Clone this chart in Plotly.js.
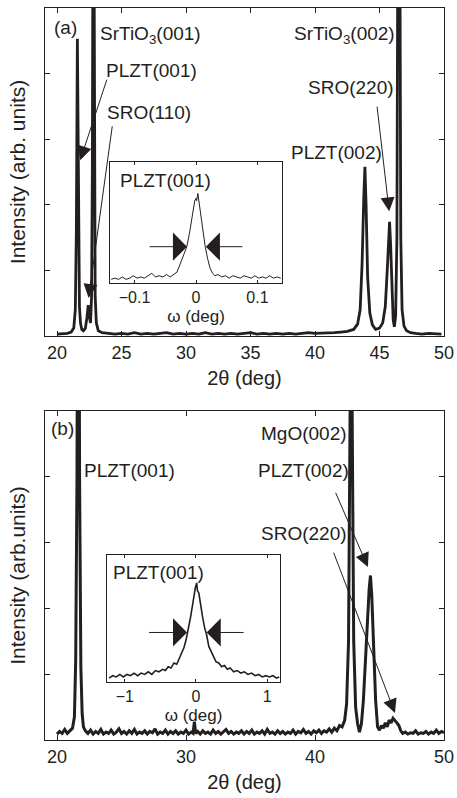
<!DOCTYPE html>
<html>
<head>
<meta charset="utf-8">
<script src="https://cdn.plot.ly/plotly-3.0.1.min.js"></script>
<style>html,body{margin:0;padding:0;background:#fff;}#chart{width:457px;height:798px;}</style>
</head>
<body>
<div id="chart"></div>
<script>
// ---- data ----
// (a) 2theta scan on SrTiO3, [2theta (deg), intensity (arb.)]
const scanA = [[20.0,0.03],[20.4,0.04],[20.8,0.04],[21.1,0.06],[21.3,0.12],[21.42,0.4],[21.5,1.6],[21.58,4.53],[21.66,1.5],[21.74,0.45],[21.82,0.2],[21.92,0.1],[22.05,0.08],[22.2,0.12],[22.32,0.28],[22.42,0.47],[22.52,0.28],[22.6,0.2],[22.68,0.6],[22.74,2.5],[22.82,9],[22.9,2.5],[22.96,0.6],[23.05,0.2],[23.2,0.08],[23.5,0.05],[24,0.04],[24.5,0.03],[25,0.04],[25.5,0.03],[26,0.05],[26.5,0.03],[27,0.04],[27.5,0.03],[28,0.04],[28.5,0.05],[29,0.03],[29.5,0.04],[30,0.03],[30.5,0.04],[31,0.03],[31.5,0.05],[32,0.03],[32.5,0.04],[33,0.03],[33.5,0.04],[34,0.03],[34.5,0.04],[35,0.05],[35.5,0.03],[36,0.04],[36.5,0.03],[37,0.04],[37.5,0.03],[38,0.04],[38.5,0.03],[39,0.04],[39.5,0.05],[40,0.04],[40.5,0.04],[41,0.05],[41.5,0.05],[42,0.06],[42.5,0.07],[43,0.1],[43.3,0.18],[43.5,0.4],[43.65,1.1],[43.78,2.1],[43.87,2.58],[43.96,2.0],[44.08,0.9],[44.25,0.35],[44.45,0.17],[44.7,0.1],[45.0,0.12],[45.25,0.2],[45.45,0.45],[45.6,1.0],[45.7,1.5],[45.78,1.74],[45.86,1.4],[45.96,0.6],[46.06,0.25],[46.15,0.14],[46.25,0.3],[46.35,1.5],[46.45,8],[46.55,8],[46.65,1.5],[46.75,0.4],[46.9,0.15],[47.1,0.08],[47.4,0.05],[47.8,0.04],[48.3,0.03],[48.8,0.04],[49.3,0.03],[49.8,0.03]];
// (a) inset rocking curve PLZT(001), [omega (deg), intensity]
const rockA = [[-0.138,0.03],[-0.132,0.04],[-0.126,0.03],[-0.12,0.05],[-0.114,0.03],[-0.108,0.04],[-0.102,0.06],[-0.096,0.04],[-0.09,0.05],[-0.084,0.04],[-0.078,0.06],[-0.072,0.08],[-0.066,0.05],[-0.06,0.06],[-0.054,0.05],[-0.048,0.07],[-0.042,0.05],[-0.036,0.07],[-0.031,0.09],[-0.027,0.14],[-0.023,0.19],[-0.019,0.24],[-0.015,0.3],[-0.011,0.4],[-0.007,0.52],[-0.004,0.62],[-0.002,0.68],[0.0,0.7],[0.001,0.68],[0.003,0.74],[0.005,0.66],[0.008,0.55],[0.011,0.42],[0.015,0.3],[0.019,0.2],[0.023,0.12],[0.027,0.08],[0.031,0.06],[0.036,0.07],[0.042,0.05],[0.048,0.06],[0.054,0.04],[0.06,0.06],[0.066,0.05],[0.072,0.04],[0.078,0.06],[0.084,0.05],[0.09,0.04],[0.096,0.06],[0.102,0.04],[0.108,0.05],[0.114,0.04],[0.12,0.06],[0.126,0.04],[0.132,0.05],[0.138,0.04]];
// (b) 2theta scan on MgO
const scanB = [[20.0,0.09],[20.2,0.13],[20.4,0.1],[20.6,0.16],[20.8,0.1],[21.0,0.14],[21.2,0.18],[21.35,0.35],[21.45,1.2],[21.55,4],[21.65,12],[21.75,4],[21.85,1.1],[21.95,0.4],[22.05,0.2],[22.2,0.14],[22.4,0.1],[22.6,0.15],[22.8,0.09],[23.0,0.13],[23.2,0.1],[23.4,0.16],[23.6,0.09],[23.8,0.12],[24.0,0.1],[24.2,0.15],[24.4,0.09],[24.6,0.12],[24.8,0.17],[25.0,0.1],[25.2,0.13],[25.4,0.09],[25.6,0.14],[25.8,0.1],[26.0,0.16],[26.2,0.09],[26.4,0.12],[26.6,0.1],[26.8,0.14],[27.0,0.09],[27.2,0.13],[27.4,0.11],[27.6,0.17],[27.8,0.09],[28.0,0.12],[28.2,0.1],[28.4,0.15],[28.6,0.09],[28.8,0.13],[29.0,0.1],[29.2,0.14],[29.4,0.09],[29.6,0.12],[29.8,0.1],[30.0,0.15],[30.2,0.09],[30.4,0.12],[30.55,0.1],[30.65,0.28],[30.75,0.1],[30.9,0.13],[31.1,0.09],[31.3,0.14],[31.5,0.1],[31.7,0.12],[31.9,0.09],[32.1,0.15],[32.3,0.1],[32.5,0.13],[32.7,0.09],[32.9,0.12],[33.1,0.16],[33.3,0.1],[33.5,0.13],[33.7,0.09],[33.9,0.12],[34.1,0.1],[34.3,0.14],[34.5,0.09],[34.7,0.13],[34.9,0.1],[35.1,0.15],[35.3,0.09],[35.5,0.12],[35.7,0.1],[35.9,0.14],[36.1,0.09],[36.3,0.16],[36.5,0.1],[36.7,0.12],[36.9,0.09],[37.1,0.14],[37.3,0.1],[37.5,0.13],[37.7,0.09],[37.9,0.12],[38.1,0.1],[38.3,0.15],[38.5,0.09],[38.7,0.13],[38.9,0.11],[39.1,0.16],[39.3,0.1],[39.5,0.13],[39.7,0.09],[39.9,0.14],[40.1,0.11],[40.3,0.15],[40.5,0.1],[40.7,0.14],[40.9,0.12],[41.1,0.17],[41.3,0.12],[41.5,0.18],[41.7,0.14],[41.9,0.22],[42.1,0.2],[42.3,0.3],[42.45,0.55],[42.6,1.5],[42.72,5],[42.8,14],[42.88,5],[43.0,1.5],[43.15,0.5],[43.3,0.25],[43.45,0.12],[43.6,0.25],[43.75,0.6],[43.9,1.2],[44.05,1.9],[44.2,2.3],[44.3,2.5],[44.4,2.2],[44.55,1.4],[44.7,0.6],[44.85,0.2],[45.0,0.15],[45.15,0.22],[45.3,0.18],[45.45,0.26],[45.6,0.2],[45.75,0.3],[45.9,0.26],[46.05,0.33],[46.2,0.3],[46.35,0.26],[46.5,0.22],[46.65,0.14],[46.8,0.1],[47.0,0.12],[47.2,0.09],[47.4,0.11],[47.6,0.1],[47.8,0.14],[48.0,0.09],[48.2,0.11],[48.4,0.1],[48.6,0.13],[48.8,0.09],[49.0,0.12],[49.2,0.1],[49.4,0.15],[49.6,0.1],[49.8,0.13],[50.0,0.11]];
// (b) inset rocking curve PLZT(001)
const rockB = [[-1.22,0.03],[-1.17,0.05],[-1.12,0.04],[-1.07,0.06],[-1.02,0.04],[-0.97,0.06],[-0.92,0.05],[-0.87,0.07],[-0.82,0.05],[-0.77,0.07],[-0.72,0.06],[-0.67,0.08],[-0.62,0.06],[-0.57,0.09],[-0.52,0.08],[-0.47,0.1],[-0.43,0.09],[-0.39,0.12],[-0.35,0.11],[-0.31,0.15],[-0.27,0.14],[-0.23,0.19],[-0.2,0.22],[-0.17,0.27],[-0.14,0.33],[-0.11,0.41],[-0.08,0.5],[-0.05,0.6],[-0.03,0.68],[-0.01,0.74],[0.01,0.78],[0.02,0.72],[0.04,0.7],[0.06,0.62],[0.09,0.52],[0.12,0.43],[0.15,0.37],[0.18,0.28],[0.21,0.24],[0.24,0.2],[0.28,0.16],[0.32,0.15],[0.36,0.12],[0.4,0.13],[0.44,0.1],[0.48,0.11],[0.53,0.08],[0.58,0.09],[0.63,0.07],[0.68,0.08],[0.73,0.06],[0.78,0.07],[0.83,0.05],[0.88,0.06],[0.93,0.04],[0.98,0.05],[1.03,0.04],[1.08,0.05],[1.13,0.03],[1.17,0.04]];

const ticksA = [20, 25, 30, 35, 40, 45, 50];
const ticksB = [20, 30, 40, 50];
const ticksRockA = [-0.1, 0, 0.1];
const ticksRockB = [-1, 0, 1];
const peakLabelsA = ['SrTiO<sub>3</sub>(001)', 'PLZT(001)', 'SRO(110)', 'SrTiO<sub>3</sub>(002)', 'SRO(220)', 'PLZT(002)'];
const peakLabelsB = ['PLZT(001)', 'MgO(002)', 'PLZT(002)', 'SRO(220)'];

// ---- drawing ----
const W = 457, H = 798;
const INK = '#231f20';
const FONT = '"Liberation Sans", Arial, Helvetica, sans-serif';
const px = v => v / W;
const py = v => 1 - v / H;
const xs = a => a.map(p => p[0]);
const ys = a => a.map(p => p[1]);

const traces = [
  {x: xs(scanA), y: ys(scanA), xaxis: 'x', yaxis: 'y', mode: 'lines', line: {color: INK, width: 2.8}, hoverinfo: 'skip'},
  {x: xs(rockA), y: ys(rockA), xaxis: 'x2', yaxis: 'y2', mode: 'lines', line: {color: INK, width: 1}, hoverinfo: 'skip'},
  {x: xs(scanB), y: ys(scanB), xaxis: 'x3', yaxis: 'y3', mode: 'lines', line: {color: INK, width: 3}, hoverinfo: 'skip'},
  {x: xs(rockB), y: ys(rockB), xaxis: 'x4', yaxis: 'y4', mode: 'lines', line: {color: INK, width: 1.6}, hoverinfo: 'skip'}
];

const axBase = {showline: true, linecolor: INK, linewidth: 1, mirror: 'ticks', ticks: 'inside',
  ticklen: 5, tickcolor: INK, showgrid: false, zeroline: false, automargin: false,
  tickfont: {family: FONT, size: 18, color: INK}};

const mainY = (dom, title) => Object.assign({}, axBase, {domain: dom, range: [0, 5], tickvals: [1, 2, 3, 4],
  showticklabels: false, title: {text: title, font: {family: FONT, size: 21, color: INK}, standoff: 12}});
const mainX = (dom, anchor, tv) => Object.assign({}, axBase, {domain: dom, anchor: anchor, range: [19.07, 50], tickvals: tv,
  title: {text: '2θ (deg)', font: {family: FONT, size: 20, color: INK}, standoff: 9}});
const insetX = (dom, anchor, rng, tv) => Object.assign({}, axBase, {domain: dom, anchor: anchor, range: rng, tickvals: tv,
  ticklen: 3, tickfont: {family: FONT, size: 16, color: INK},
  title: {text: 'ω (deg)', font: {family: FONT, size: 17, color: INK}, standoff: 4}});
const insetY = (dom, anchor) => ({domain: dom, anchor: anchor, range: [0, 1], showline: true, linecolor: INK, linewidth: 1,
  mirror: true, ticks: '', showticklabels: false, showgrid: false, zeroline: false, automargin: false});

const layout = {
  width: W, height: H, margin: {l: 0, r: 0, t: 0, b: 0}, showlegend: false,
  paper_bgcolor: '#fff', plot_bgcolor: 'rgba(0,0,0,0)',
  font: {family: FONT, color: INK},
  xaxis: mainX([px(45), px(444)], 'y', ticksA),
  yaxis: Object.assign(mainY([py(336), py(8)], 'Intensity (arb. units)'), {anchor: 'x'}),
  xaxis2: insetX([px(110), px(282)], 'y2', [-0.14, 0.14], ticksRockA),
  yaxis2: insetY([py(283), py(162)], 'x2'),
  xaxis3: mainX([px(45), px(444)], 'y3', ticksB),
  yaxis3: Object.assign(mainY([py(740), py(411)], 'Intensity (arb.units)'), {anchor: 'x3'}),
  xaxis4: insetX([px(107), px(280)], 'y4', [-1.25, 1.18], ticksRockB),
  yaxis4: insetY([py(682), py(555)], 'x4'),
  annotations: []
};

const ann = layout.annotations;
const label = (text, xPix, yPix, anchor) => ann.push({text: text, xref: 'paper', yref: 'paper', x: px(xPix), y: py(yPix),
  xanchor: anchor, yanchor: 'middle', showarrow: false, font: {family: FONT, size: 19, color: INK}});
const arrow = (xr, yr, tip, tail, head, size) => ann.push({text: '', xref: xr, yref: yr, axref: xr, ayref: yr,
  x: tip[0], y: tip[1], ax: tail[0], ay: tail[1], showarrow: true, arrowhead: head, arrowsize: size,
  arrowwidth: 1, arrowcolor: INK, standoff: 0, startstandoff: 0});

// panel (a)
label('(a)', 52, 27, 'left');
label(peakLabelsA[0], 98, 35, 'left');
label(peakLabelsA[1], 104, 70, 'left');
label(peakLabelsA[2], 105, 112, 'left');
label(peakLabelsA[3], 397, 35, 'right');
label(peakLabelsA[4], 396, 87, 'right');
label(peakLabelsA[5], 384, 152, 'right');
label('PLZT(001)', 118, 180, 'left');
arrow('x', 'y', [21.8, 2.68], [23.9, 3.93], 2, 2.8);
arrow('x', 'y', [22.45, 0.58], [24.3, 3.22], 2, 2.8);
arrow('x', 'y', [45.75, 1.9], [44.8, 3.52], 2, 2.8);
arrow('x2', 'y2', [-0.0146, 0.3], [-0.078, 0.3], 1, 4.7);
arrow('x2', 'y2', [0.016, 0.3], [0.078, 0.3], 1, 4.7);

// panel (b)
label('(b)', 49, 428, 'left');
label(peakLabelsB[0], 82, 470, 'left');
label(peakLabelsB[1], 349, 433, 'right');
label(peakLabelsB[2], 351, 470, 'right');
label(peakLabelsB[3], 349, 533, 'right');
label('PLZT(001)', 111, 572, 'left');
arrow('x3', 'y3', [44.1, 2.63], [41.55, 3.78], 2, 2.8);
arrow('x3', 'y3', [46.2, 0.41], [41.4, 2.87], 2, 2.8);
arrow('x4', 'y4', [-0.125, 0.39], [-0.68, 0.39], 1, 4.7);
arrow('x4', 'y4', [0.15, 0.39], [0.69, 0.39], 1, 4.7);

Plotly.newPlot('chart', traces, layout, {staticPlot: true, displayModeBar: false});
</script>
</body>
</html>
